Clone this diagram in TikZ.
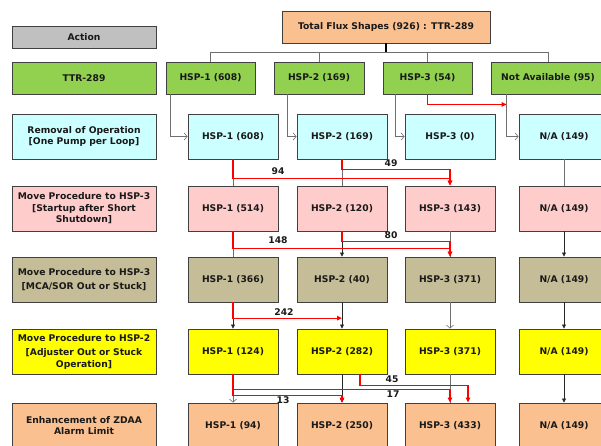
\documentclass[tikz,border=0pt]{standalone}
\usepackage{fontspec}
\setmainfont{DejaVu Sans}
\usetikzlibrary{arrows.meta,calc}
\definecolor{cgreen}{HTML}{92D050}
\definecolor{ccyan}{HTML}{CCFFFF}
\definecolor{cpink}{HTML}{FFCCCC}
\definecolor{ckhaki}{HTML}{C4BD97}
\definecolor{cyell}{HTML}{FFFF00}
\definecolor{cpeach}{HTML}{FAC090}
\definecolor{cgray}{HTML}{C0C0C0}
\definecolor{lgray}{HTML}{6F6F6F}
\begin{document}
\begin{tikzpicture}[x=1pt,y=-1pt,
  box/.style={draw=black!75, line width=0.9pt, minimum height=45pt, minimum width=90pt, inner sep=1pt, align=center, font=\bfseries\fontsize{9.2}{11.5}\selectfont, text=black!90},
  lab/.style={box, minimum width=144pt},
  gl/.style={draw=lgray, line width=0.8pt},
  ga/.style={gl, -{Straight Barb[length=3pt,width=7pt,line width=0.6pt]}},
  ba/.style={draw=black!85, line width=0.7pt, -{Triangle[length=4pt,width=4pt]}},
  ra/.style={draw=red, line width=1.2pt, -{Triangle[length=5pt,width=4.5pt]}},
  num/.style={font=\bfseries\fontsize{9.2}{11}\selectfont, text=black!90, inner sep=0pt}]
\useasboundingbox (0,0) rectangle (601,446);
\clip (0,0) rectangle (601,446);
% header
\node[lab, fill=cgray, minimum height=22pt] (act) at (84,37) {Action};
\node[box, fill=cpeach, minimum width=208pt, minimum height=32pt] (tot) at (386,27) {Total Flux Shapes (926) : TTR-289};
% green row
\node[lab, fill=cgreen, minimum height=32pt] (lttr) at (84,78) {TTR-289};
\node[box, fill=cgreen, minimum height=32pt, minimum width=89pt] (g1) at (210.5,78) {HSP-1 (608)};
\node[box, fill=cgreen, minimum height=32pt, minimum width=90pt] (g2) at (319,78) {HSP-2 (169)};
\node[box, fill=cgreen, minimum height=32pt, minimum width=89pt] (g3) at (427.5,78) {HSP-3 (54)};
\node[box, fill=cgreen, minimum height=32pt, minimum width=114pt] (g4) at (548,78) {Not Available (95)};
% row 2
\node[lab, fill=ccyan] (l2) at (84,136.5) {Removal of Operation\\{[}One Pump per Loop]};
\node[box, fill=ccyan] (c1) at (233,136.5) {HSP-1 (608)};
\node[box, fill=ccyan] (c2) at (342,136.5) {HSP-2 (169)};
\node[box, fill=ccyan] (c3) at (450,136.5) {HSP-3 (0)};
\node[box, fill=ccyan] (c4) at (564,136.5) {N/A (149)};
% row 3
\node[lab, fill=cpink] (l3) at (84,208.5) {Move Procedure to HSP-3\\{[}Startup after Short\\Shutdown]};
\node[box, fill=cpink] (p1) at (233,208.5) {HSP-1 (514)};
\node[box, fill=cpink] (p2) at (342,208.5) {HSP-2 (120)};
\node[box, fill=cpink] (p3) at (450,208.5) {HSP-3 (143)};
\node[box, fill=cpink] (p4) at (564,208.5) {N/A (149)};
% row 4
\node[lab, fill=ckhaki] (l4) at (84,279.5) {Move Procedure to HSP-3\\[2pt]{[}MCA/SOR Out or Stuck]};
\node[box, fill=ckhaki] (k1) at (233,279.5) {HSP-1 (366)};
\node[box, fill=ckhaki] (k2) at (342,279.5) {HSP-2 (40)};
\node[box, fill=ckhaki] (k3) at (450,279.5) {HSP-3 (371)};
\node[box, fill=ckhaki] (k4) at (564,279.5) {N/A (149)};
% row 5
\node[lab, fill=cyell] (l5) at (84,351.5) {Move Procedure to HSP-2\\[3pt]{[}Adjuster Out or Stuck\\Operation]};
\node[box, fill=cyell] (y1) at (233,351.5) {HSP-1 (124)};
\node[box, fill=cyell] (y2) at (342,351.5) {HSP-2 (282)};
\node[box, fill=cyell] (y3) at (450,351.5) {HSP-3 (371)};
\node[box, fill=cyell] (y4) at (564,351.5) {N/A (149)};
% row 6
\node[lab, fill=cpeach] (l6) at (84,425.5) {Enhancement of ZDAA\\Alarm Limit};
\node[box, fill=cpeach] (e1) at (233,425.5) {HSP-1 (94)};
\node[box, fill=cpeach] (e2) at (342,425.5) {HSP-2 (250)};
\node[box, fill=cpeach] (e3) at (450,425.5) {HSP-3 (433)};
\node[box, fill=cpeach] (e4) at (564,425.5) {N/A (149)};
% top bracket
\draw[black, line width=1.3pt] (tot.south) -- ++(0,9) coordinate (tb);
\draw[gl] (g1.north) |- (tb) -| (g4.north);
\draw[gl] (g2.north) -- (g2.north |- tb);
\draw[gl] (g3.north) -- (g3.north |- tb);
% green -> cyan
\draw[ga] ($(g1.south west)+(5,0)$) |- (c1.west);
\draw[ga] ($(g2.south west)+(14,0)$) |- (c2.west);
\draw[ga] ($(g3.south west)+(13,0)$) |- (c3.west);
\draw[ga] ($(g4.south west)+(16,0)$) |- (c4.west);
\draw[ra] (g3.south) |- ($(g4.south west)+(16,10)$);
% cyan -> pink
\draw[gl] (c1.south) -- (p1.north);
\draw[gl] (c2.south) -- (p2.north);
\draw[gl] (c4.south) -- (p4.north);
\draw[ra] (c1.south) -- ++(0,18.7) -| (p3.north);
\draw[ra] (c2.south) -- ++(0,10.3) -| (p3.north);
\node[num] (n94) at (278,171.5) {94};
\node[num] (n49) at (391,163) {49};
% pink -> khaki
\draw[gl] (p1.south) -- (k1.north);
\draw[ba] (p2.south) -- (k2.north);
\draw[gl] (p3.south) -- (k3.north);
\draw[ba] (p4.south) -- (k4.north);
\draw[ra] (p1.south) -- ++(0,17.3) -| (k3.north);
\draw[ra] (p2.south) -- ++(0,9.7) -| (k3.north);
\node[num] (n148) at (278,240) {148};
\node[num] (n80) at (391,235) {80};
% khaki -> yellow
\draw[ba] (k1.south) -- (y1.north);
\draw[ba] (k2.south) -- (y2.north);
\draw[ga] (k3.south) -- (y3.north);
\draw[ba] (k4.south) -- (y4.north);
\draw[ra] (k1.south) |- ($(k2.south)+(0,15.7)$);
\node[num] (n242) at (284,312) {242};
% yellow -> peach
\draw[ga] (y1.south) -- (e1.north);
\draw[ba] (y2.south) -- (e2.north);
\draw[gl] (y3.south) -- (e3.north);
\draw[ba] (y4.south) -- (e4.north);
\draw[ra] ($(y2.south)+(18,0)$) -- ++(0,11) -| ($(e3.north)+(18,0)$);
\draw[ra] (y1.south) -- ++(0,15) -| (e3.north);
\draw[ra] (y1.south) -- ++(0,21) -| (e2.north);
\node[num] (n45) at (392,379) {45};
\node[num] (n17) at (393,394) {17};
\node[num] (n13) at (283,400) {13};
\end{tikzpicture}
\end{document}
